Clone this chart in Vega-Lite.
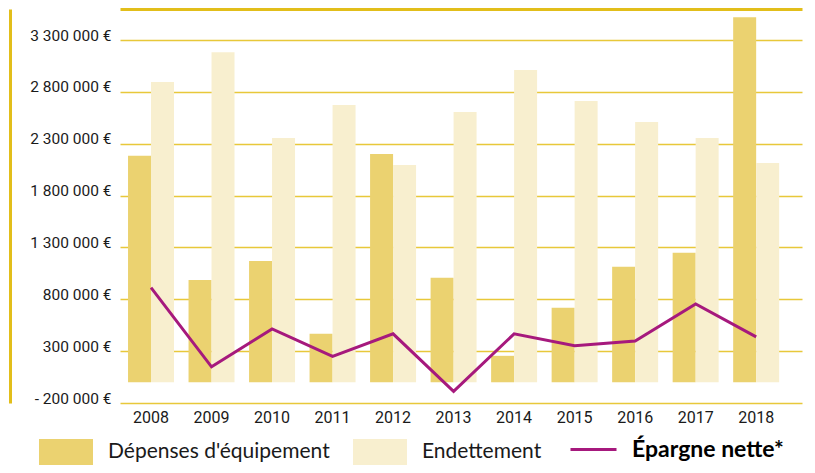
{
  "$schema": "https://vega.github.io/schema/vega-lite/v6.json",
  "width": 682,
  "height": 394,
  "autosize": "none",
  "padding": {"left": 120, "top": 9, "right": 13, "bottom": 70},
  "background": "white",
  "config": {"view": {"stroke": null}},
  "datasets": {
    "bars": [
      {"year": "2008", "serie": "Dépenses d'équipement", "montant": 2185000},
      {"year": "2009", "serie": "Dépenses d'équipement", "montant": 987000},
      {"year": "2010", "serie": "Dépenses d'équipement", "montant": 1170000},
      {"year": "2011", "serie": "Dépenses d'équipement", "montant": 467000},
      {"year": "2012", "serie": "Dépenses d'équipement", "montant": 2201000},
      {"year": "2013", "serie": "Dépenses d'équipement", "montant": 1007000},
      {"year": "2014", "serie": "Dépenses d'équipement", "montant": 255000},
      {"year": "2015", "serie": "Dépenses d'équipement", "montant": 718000},
      {"year": "2016", "serie": "Dépenses d'équipement", "montant": 1113000},
      {"year": "2017", "serie": "Dépenses d'équipement", "montant": 1248000},
      {"year": "2018", "serie": "Dépenses d'équipement", "montant": 3521000},
      {"year": "2008", "serie": "Endettement", "montant": 2895000},
      {"year": "2009", "serie": "Endettement", "montant": 3184000},
      {"year": "2010", "serie": "Endettement", "montant": 2355000},
      {"year": "2011", "serie": "Endettement", "montant": 2673000},
      {"year": "2012", "serie": "Endettement", "montant": 2095000},
      {"year": "2013", "serie": "Endettement", "montant": 2606000},
      {"year": "2014", "serie": "Endettement", "montant": 3011000},
      {"year": "2015", "serie": "Endettement", "montant": 2712000},
      {"year": "2016", "serie": "Endettement", "montant": 2510000},
      {"year": "2017", "serie": "Endettement", "montant": 2355000},
      {"year": "2018", "serie": "Endettement", "montant": 2115000}
    ],
    "epargne": [
      {"year": "2008", "epargne": 913000},
      {"year": "2009", "epargne": 149000},
      {"year": "2010", "epargne": 515000},
      {"year": "2011", "epargne": 249000},
      {"year": "2012", "epargne": 467000},
      {"year": "2013", "epargne": -88000},
      {"year": "2014", "epargne": 467000},
      {"year": "2015", "epargne": 352000},
      {"year": "2016", "epargne": 397000},
      {"year": "2017", "epargne": 756000},
      {"year": "2018", "epargne": 438000}
    ]
  },
  "resolve": {"axis": {"x": "independent"}},
  "layer": [
    {
      "data": {"name": "bars"},
      "mark": {"type": "bar"},
      "encoding": {
        "x": {
          "field": "year", "type": "nominal",
          "scale": {"paddingInner": 0.24, "paddingOuter": 0.255, "align": 0.26},
          "axis": {"orient": "bottom", "title": null, "domain": false, "ticks": false, "labelAngle": 0, "labelPadding": 6, "labelFont": "Roboto", "labelFontSize": 16, "labelColor": "#1a1a1a"}
        },
        "xOffset": {"field": "serie", "type": "nominal", "scale": {"paddingInner": 0, "paddingOuter": 0}},
        "y": {
          "field": "montant", "type": "quantitative",
          "scale": {"domain": [-200000, 3600000], "nice": false, "zero": false},
          "axis": {
            "title": null,
            "values": [-200000, 300000, 800000, 1300000, 1800000, 2300000, 2800000, 3300000],
            "labelExpr": "(datum.value < 0 ? '- ' : '') + replace(replace(format(abs(datum.value), ',d'), ',', ' '), ',', ' ') + ' €'",
            "offset": 110,
            "domain": true, "domainColor": "#E2BE1A", "domainWidth": 3,
            "ticks": false,
            "labelPadding": -101,
            "labelOffset": -5,
            "labelFont": "Roboto", "labelFontSize": 15.5, "labelColor": "#1a1a1a",
            "grid": true, "gridColor": "#E8C83A", "gridWidth": 1.5
          }
        },
        "fill": {
          "field": "serie", "type": "nominal",
          "scale": {"domain": ["Dépenses d'équipement", "Endettement"], "range": ["#EBD270", "#F8EFCF"]},
          "legend": {
            "orient": "none", "legendX": -81, "legendY": 416, "direction": "horizontal",
            "title": null, "padding": 0, "labelLimit": 400,
            "symbolType": "M-1,-0.48H1V0.48H-1Z", "symbolSize": 2916, "symbolStrokeWidth": 0,
            "labelFont": "Lato", "labelFontSize": 21, "labelColor": "#1a1a1a", "labelOffset": 15,
            "columnPadding": 23
          }
        }
      }
    },
    {
      "mark": {"type": "rule", "color": "#A6307F", "strokeWidth": 1.5},
      "encoding": {"y": {"datum": 0, "type": "quantitative"}}
    },
    {
      "data": {"name": "epargne"},
      "mark": {"type": "line", "strokeWidth": 3},
      "encoding": {
        "x": {
          "field": "year", "type": "nominal",
          "axis": {"orient": "top", "title": null, "labels": false, "ticks": false, "domain": true, "domainColor": "#E2BE1A", "domainWidth": 3}
        },
        "y": {"field": "epargne", "type": "quantitative"},
        "stroke": {
          "datum": "Épargne nette*",
          "scale": {"range": ["#A6197D"]},
          "legend": {
            "orient": "none", "legendX": 449, "legendY": 416, "title": null, "padding": 0, "labelLimit": 400,
            "symbolType": "stroke", "symbolSize": 2116, "symbolStrokeWidth": 3,
            "labelFont": "Lato", "labelFontSize": 23, "labelFontWeight": "bold", "labelColor": "#000", "labelOffset": 14
          }
        }
      }
    }
  ]
}
